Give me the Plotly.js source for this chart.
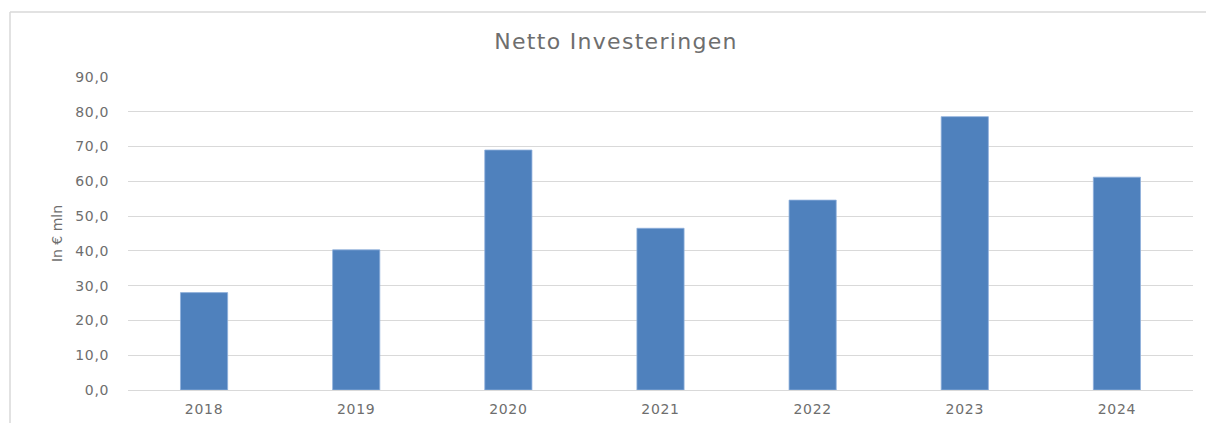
<!DOCTYPE html>
<html>
<head>
<meta charset="utf-8">
<script src="https://cdn.plot.ly/plotly-3.0.1.min.js"></script>
<style>
html,body{margin:0;padding:0;background:#fff;}
#chart{width:1206px;height:423px;}
#chart .gtitle{letter-spacing:1.3px;}
#chart .xtick text, #chart .ytick text{letter-spacing:0.7px;}
</style>
</head>
<body>
<div id="chart"></div>
<script>
const years = ['2018','2019','2020','2021','2022','2023','2024'];
const investeringen = [28.0, 40.3, 69.0, 46.5, 54.6, 78.6, 61.2];
const yTicks = [0,10,20,30,40,50,60,70,80,90];

const gray = '#6e6e6e';
const fam = 'DejaVu Sans, Open Sans, sans-serif';
const W = 1206, H = 423, L = 128, R = 13, T = 77, B = 33;
const pw = W - L - R, ph = H - T - B;
const px = v => (v - L) / pw;
const py = v => (H - B - v) / ph;

const trace = {
  type: 'bar',
  x: years,
  y: investeringen,
  marker: {color: '#4f81bd', line: {color: '#8fb0dc', width: 0.8}},
  hoverinfo: 'x+y'
};

const layout = {
  width: W, height: H,
  margin: {l: L, r: R, t: T, b: B, pad: 0},
  paper_bgcolor: '#ffffff',
  plot_bgcolor: '#ffffff',
  separators: ',.',
  bargap: 0.69,
  showlegend: false,
  font: {family: fam, color: gray, size: 14},
  title: {
    text: 'Netto Investeringen',
    font: {family: fam, size: 22, color: gray},
    x: 616 / W, xanchor: 'center', xref: 'container',
    y: 1 - 41 / H, yanchor: 'middle', yref: 'container'
  },
  xaxis: {
    type: 'category',
    showgrid: false,
    showline: false,
    zeroline: false,
    ticks: 'outside', ticklen: 6, tickcolor: 'rgba(0,0,0,0)',
    tickfont: {family: fam, size: 14, color: gray}
  },
  yaxis: {
    range: [0, 90],
    tickvals: yTicks,
    tickformat: '.1f',
    showgrid: true,
    gridcolor: '#d9d9d9',
    gridwidth: 1,
    zeroline: true,
    zerolinecolor: '#d9d9d9',
    zerolinewidth: 1,
    showline: false,
    ticks: 'outside', ticklen: 15, tickcolor: 'rgba(0,0,0,0)',
    tickfont: {family: fam, size: 14, color: gray},
    title: {text: 'In € mln', font: {family: fam, size: 14, color: gray}, standoff: 12}
  },
  shapes: [
    {type: 'line', xref: 'paper', yref: 'paper', x0: px(10), x1: px(W + 5), y0: py(12), y1: py(12),
     line: {color: '#d9d9d9', width: 1.5}},
    {type: 'line', xref: 'paper', yref: 'paper', x0: px(10), x1: px(10), y0: py(12), y1: py(H + 5),
     line: {color: '#d9d9d9', width: 1.5}}
  ]
};

Plotly.newPlot('chart', [trace], layout, {displayModeBar: false, staticPlot: true});
</script>
</body>
</html>
